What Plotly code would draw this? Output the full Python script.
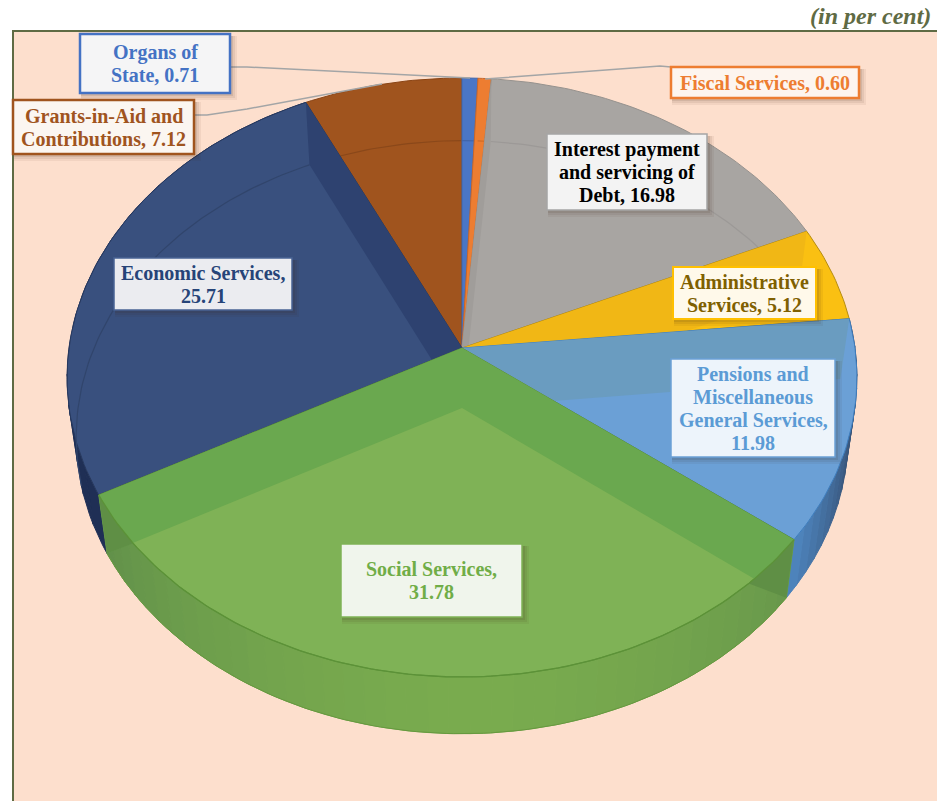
import math
import plotly.graph_objects as go

# ---- data ----
categories = ["Organs of State", "Fiscal Services", "Interest payment and servicing of Debt",
              "Administrative Services", "Pensions and Miscellaneous General Services",
              "Social Services", "Economic Services", "Grants-in-Aid and Contributions"]
values = [0.71, 0.60, 16.98, 5.12, 11.98, 31.78, 25.71, 7.12]
label_lines = [["Organs of", "State, 0.71"], ["Fiscal Services, 0.60"],
               ["Interest payment", "and servicing of", "Debt, 16.98"],
               ["Administrative", "Services, 5.12"],
               ["Pensions and", "Miscellaneous", "General Services,", "11.98"],
               ["Social Services,", "31.78"], ["Economic Services,", "25.71"],
               ["Grants-in-Aid and", "Contributions, 7.12"]]
unit_note = "(in per cent)"

# ---- styles ----
top_col = ["#4a76c6", "#ed7d31", "#a8a5a2", "#fac012", "#6ba0d6", "#7fb256", "#39507e", "#a0541e"]
edge_col = ["#3f66ad", "#c9672a", "#96928e", "#b58c10", "#3f7fc0", "#5c9238", "#27395f", "#8a4415"]
strip_col = ["#3f66ad", "#c9672a", "#a09d9a", "#f1b715", "#6a9cc0", "#6aa84f", "#2e4270", "#8f4a1a"]
rim_dark = [0.14, 0.14, 0.07, 0.06, 0.14, 0.14, 0.14, 0.14]
txt_col = ["#4472c4", "#ed7d31", "#000000", "#7f6000", "#5b9bd5", "#70ad47", "#264478", "#a0541e"]
box_fill = ["#f5f5f6", "#fdf5ef", "#f3f3f3", "#fff9ea", "#edf4fb", "#f0f5ec", "#ebecf0", "#fbf6f1"]
box_line = ["#4472c4", "#ed7d31", "#a5a5a5", "#ffc000", "#6ba0d6", "#7fb256", "#4a6394", "#a0541e"]
box_lw = [2.5, 2.5, 1.5, 2, 1.5, 1.5, 1.5, 2.5]
# box rectangles x0, y0, x1, y1 in page pixels
boxes = [(80, 34, 230, 93), (671, 67, 859, 98), (547, 134, 707, 210), (673, 267, 816, 319),
         (671, 359, 835, 457), (341, 544, 522, 617), (114, 258, 292, 310), (13, 100, 194, 154)]

CX, CY, A, B, K = 462, 348, 393, 296.6, 0.0985
DROP, SX, SY = 60, 0.977, 0.99
BG = "#fddfcd"
OLIVE = "#5f6b44"
LINE_STEP = 23


def rim(t, lower=False):
    d = 1 + K * math.cos(t)
    x, y = A * math.sin(t) / d, -B * math.cos(t) / d
    if lower:
        return CX + SX * x, CY + DROP + SY * y
    return CX + x, CY + y


def arc(t0, t1, lower=False):
    n = max(2, int(abs(t1 - t0) / math.radians(1)) + 1)
    return [rim(t0 + (t1 - t0) * i / n, lower) for i in range(n + 1)]


def mix(c1, c2, f):
    a = [int(c1[i:i + 2], 16) for i in (1, 3, 5)]
    b = [int(c2[i:i + 2], 16) for i in (1, 3, 5)]
    return "#%02x%02x%02x" % tuple(round(a[i] + (b[i] - a[i]) * f) for i in range(3))


fig = go.Figure()


def poly(pts, fill, line=None, width=0.0, name=""):
    pts = list(pts)
    fig.add_trace(go.Scatter(x=[p[0] for p in pts] + [pts[0][0]], y=[p[1] for p in pts] + [pts[0][1]],
                             mode="lines", fill="toself", fillcolor=fill,
                             line=dict(color=line or fill, width=width), name=name,
                             hoverinfo="skip", showlegend=False))


def curve(pts, col, width):
    fig.add_trace(go.Scatter(x=[p[0] for p in pts], y=[p[1] for p in pts], mode="lines",
                             line=dict(color=col, width=width), hoverinfo="skip", showlegend=False))


total = sum(values)
bounds = [0.0]
for v in values:
    bounds.append(bounds[-1] + v / total * 2 * math.pi)

# outer walls, segment by segment for the shading round the rim
for i in (6, 4, 5):
    t0, t1 = bounds[i], bounds[i + 1]
    n = 40 if i == 5 else 16
    for s in range(n):
        a0, a1 = t0 + (t1 - t0) * s / n, t0 + (t1 - t0) * (s + 1) / n
        f = (s + 0.5) / n
        if i == 5:
            g = abs(f - 0.45) / 0.55
            col = mix("#79ab4e", "#61904a", min(1, g ** 1.6))
        elif i == 4:
            col = mix("#2d3e5a", "#4f86c0", f ** 1.5)
        else:
            col = "#1f2f55"
        poly(arc(a0, a1) + arc(a1, a0, True), col, col, 1, categories[i])
# darker lower edge of the green wall
curve(arc(bounds[5], bounds[6], True), "#66993f", 1)


def spoke_quad(t):
    return [rim(t), (CX, CY), (CX, CY + DROP), rim(t, True)]


draw_order = [7, 0, 1, 2, 3, 4, 6, 5]
strip_spokes = {2: [0, 1], 3: [0], 4: [0], 5: [0, 1], 6: [1]}
for i in draw_order:
    t0, t1 = bounds[i], bounds[i + 1]
    poly([(CX, CY)] + arc(t0, t1), top_col[i], edge_col[i], 1, categories[i])
    # back rim of the base seen through the slice
    if i in (7, 6, 2, 0, 1, 3):
        start = math.radians(255) if i == 6 else t0
        curve(arc(start, t1, True), mix(top_col[i], "#000000", rim_dark[i]), 1.2)
    for e in strip_spokes.get(i, []):
        poly(spoke_quad(bounds[i + e]), strip_col[i], name=categories[i])
    if i == 5:
        # corners where the inner wall shows past the top rim
        for t, sign in ((bounds[5], 1), (bounds[6], -1)):
            tt = [t + sign * math.radians(d) for d in range(0, 11)]
            poly([rim(x) for x in tt] + [rim(t, True)], "#5f8f45", name=categories[i])
        curve(arc(t0, t1), "#5c9238", 1.3)

shapes = []
# leader lines
leaders = [[(230, 67), (247, 67), (470, 78)], [(671, 67), (660, 66), (485, 79)],
           [(194, 115), (207, 115), (247, 109), (382, 84)]]
for L in leaders:
    path = "M " + " L ".join(f"{x},{y}" for x, y in L)
    shapes.append(dict(type="path", path=path, line=dict(color="#a3a5a6", width=1.5), layer="above"))
annos = []
for i, b in enumerate(boxes):
    for off, al in ((7, 0.06), (5, 0.08), (3, 0.10)):
        shapes.append(dict(type="rect", x0=b[0] + 1, y0=b[1] + 2, x1=b[2] + off, y1=b[3] + off,
                           fillcolor=f"rgba(60,40,20,{al})", line=dict(width=0), layer="above"))
    shapes.append(dict(type="rect", x0=b[0], y0=b[1], x1=b[2], y1=b[3], fillcolor=box_fill[i],
                       line=dict(color=box_line[i], width=box_lw[i]), layer="above"))
    n = len(label_lines[i])
    for k, line in enumerate(label_lines[i]):
        annos.append(dict(x=(b[0] + b[2]) / 2, y=(b[1] + b[3]) / 2 + (k - (n - 1) / 2) * LINE_STEP,
                          text=f"<b>{line}</b>", showarrow=False, xanchor="center", yanchor="middle",
                          font=dict(family="Liberation Serif", size=20, color=txt_col[i])))
annos.append(dict(x=933, y=16, text=f"<b><i>{unit_note}</i></b>", showarrow=False, xanchor="right", yanchor="middle",
                  font=dict(family="Liberation Serif", size=24, color=OLIVE)))
# frame goes below the traces
shapes.insert(0, dict(type="rect", x0=13, y0=31, x1=945, y1=810, fillcolor=BG,
                      line=dict(color=OLIVE, width=2), layer="below"))

fig.update_layout(width=937, height=801, margin=dict(l=0, r=0, t=0, b=0), autosize=False,
                  paper_bgcolor="#ffffff", plot_bgcolor="#ffffff", showlegend=False,
                  xaxis=dict(range=[0, 937], visible=False, fixedrange=True),
                  yaxis=dict(range=[801, 0], visible=False, fixedrange=True),
                  shapes=shapes, annotations=annos)
fig.write_html("out.html", config=dict(displayModeBar=False),
               post_script="document.body.style.margin='0';document.documentElement.style.overflow='hidden';")
